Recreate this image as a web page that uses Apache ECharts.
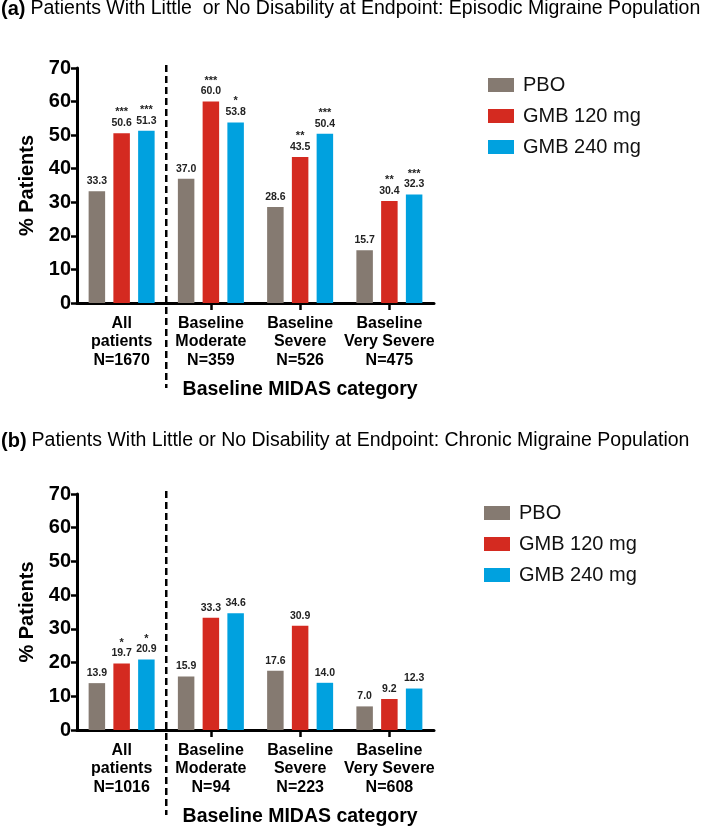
<!DOCTYPE html>
<html>
<head>
<meta charset="utf-8">
<script src="https://cdn.jsdelivr.net/npm/echarts@6/dist/echarts.min.js"></script>
<style>html,body{margin:0;padding:0;background:#fff}#c{width:709px;height:830px}</style>
</head>
<body>
<div id="c"></div>
<script>
const categoriesA = ['All\npatients\nN=1670', 'Baseline\nModerate\nN=359', 'Baseline\nSevere\nN=526', 'Baseline\nVery Severe\nN=475'];
const pboA = [33.3, 37.0, 28.6, 15.7];
const gmb120A = [50.6, 60.0, 43.5, 30.4];
const gmb240A = [51.3, 53.8, 50.4, 32.3];
const sig120A = ['***', '***', '**', '**'];
const sig240A = ['***', '*', '***', '***'];

const categoriesB = ['All\npatients\nN=1016', 'Baseline\nModerate\nN=94', 'Baseline\nSevere\nN=223', 'Baseline\nVery Severe\nN=608'];
const pboB = [13.9, 15.9, 17.6, 7.0];
const gmb120B = [19.7, 33.3, 30.9, 9.2];
const gmb240B = [20.9, 34.6, 14.0, 12.3];
const sig120B = ['*', '', '', ''];
const sig240B = ['*', '', '', ''];

const seriesNames = ['PBO', 'GMB 120 mg', 'GMB 240 mg'];
const yMin = 0, yMax = 70, yStep = 10;
const titleA = 'Patients With Little  or No Disability at Endpoint: Episodic Migraine Population';
const titleB = 'Patients With Little or No Disability at Endpoint: Chronic Migraine Population';
const xAxisTitle = 'Baseline MIDAS category';
const yAxisTitle = '% Patients';

const colors = ['#857a71', '#d42a20', '#00a1df'];
const FONT = 'Liberation Sans, Arial, sans-serif';

function labelFor(sig) {
  return {
    show: true,
    position: 'top',
    distance: 4,
    formatter: p => {
      const s = sig ? sig[p.dataIndex] : '';
      const v = '{v|' + Number(p.value).toFixed(1) + '}';
      return s ? '{s|' + s + '}\n' + v : v;
    },
    rich: {
      v: { fontFamily: FONT, fontSize: 10.5, fontWeight: 'bold', color: '#222', lineHeight: 12 },
      s: { fontFamily: FONT, fontSize: 11, fontWeight: 'bold', color: '#222', lineHeight: 10 }
    }
  };
}

function makeSeries(idx, data, color, sig, name) {
  return {
    type: 'bar', name: name, xAxisIndex: idx, yAxisIndex: idx,
    data: data, barWidth: 16.5, barGap: '50%',
    itemStyle: { color: color },
    label: labelFor(sig),
    emphasis: { disabled: true }
  };
}

function xAxisFor(idx, cats) {
  return {
    type: 'category', gridIndex: idx, data: cats,
    axisLine: { lineStyle: { color: '#000', width: 3 } },
    axisTick: { show: true, alignWithLabel: true, interval: (i) => i > 0, length: 7, lineStyle: { color: '#000', width: 2.5 } },
    axisLabel: { interval: 0, color: '#000', fontFamily: FONT, fontWeight: 'bold', fontSize: 16, lineHeight: 18.5, margin: 11 }
  };
}
function yAxisFor(idx) {
  return {
    type: 'value', gridIndex: idx, min: yMin, max: yMax, interval: yStep,
    name: yAxisTitle, nameLocation: 'middle', nameGap: 33,
    nameTextStyle: { color: '#000', fontFamily: FONT, fontWeight: 'bold', fontSize: 20 },
    axisLine: { show: true, lineStyle: { color: '#000', width: 3 } },
    axisTick: { show: true, length: 6, lineStyle: { color: '#000', width: 2.5 } },
    axisLabel: { color: '#000', fontFamily: FONT, fontWeight: 'bold', fontSize: 20, margin: 6 },
    splitLine: { show: false }
  };
}
function legendFor(left, top) {
  return {
    orient: 'vertical', left: left, top: top, data: seriesNames,
    itemWidth: 26, itemHeight: 14, itemGap: 11, icon: 'rect',
    selectedMode: false,
    textStyle: { fontFamily: FONT, fontSize: 20, color: '#111', padding: [0, 0, 0, 4] }
  };
}
function titleFor(letter, text, top) {
  return {
    text: '{b|(' + letter + ')} {n|' + text + '}',
    left: 1, top: top, padding: 0,
    textStyle: {
      rich: {
        b: { fontFamily: FONT, fontWeight: 'bold', fontSize: 20, color: '#000' },
        n: { fontFamily: FONT, fontWeight: 'normal', fontSize: 19.5, color: '#000' }
      }
    }
  };
}

const chart = echarts.init(document.getElementById('c'), null, { renderer: 'canvas' });
const option = {
  animation: false,
  title: [titleFor('a', titleA, -1), titleFor('b', titleB, 431)],
  legend: [legendFor(483, 70), legendFor(479, 498)],
  grid: [
    { left: 77, top: 68, width: 357, height: 235 },
    { left: 77, top: 494, width: 357, height: 236 }
  ],
  xAxis: [xAxisFor(0, categoriesA), xAxisFor(1, categoriesB)],
  yAxis: [yAxisFor(0), yAxisFor(1)],
  series: [
    makeSeries(0, pboA, colors[0], null, seriesNames[0]),
    makeSeries(0, gmb120A, colors[1], sig120A, seriesNames[1]),
    makeSeries(0, gmb240A, colors[2], sig240A, seriesNames[2]),
    makeSeries(1, pboB, colors[0], null, seriesNames[0]),
    makeSeries(1, gmb120B, colors[1], sig120B, seriesNames[1]),
    makeSeries(1, gmb240B, colors[2], sig240B, seriesNames[2])
  ]
};
chart.setOption(option);

function decorations(idx) {
  const x0 = chart.convertToPixel({ xAxisIndex: idx }, 0);
  const x1 = chart.convertToPixel({ xAxisIndex: idx }, 1);
  const x2 = chart.convertToPixel({ xAxisIndex: idx }, 2);
  const yTop = chart.convertToPixel({ yAxisIndex: idx }, yMax);
  const yZero = chart.convertToPixel({ yAxisIndex: idx }, yMin);
  const xm = (x0 + x1) / 2;
  return [
    {
      type: 'line', silent: true,
      shape: { x1: xm, y1: yTop - 3, x2: xm, y2: yZero + 85 },
      style: { stroke: '#000', lineWidth: 2.5, lineDash: [7, 4] }
    },
    {
      type: 'text', silent: true,
      x: x2, y: yZero + 87,
      style: {
        text: xAxisTitle, fill: '#000',
        font: 'bold 19.5px ' + FONT,
        textAlign: 'center', textVerticalAlign: 'middle',
        align: 'center', verticalAlign: 'middle'
      }
    }
  ];
}
chart.setOption({ graphic: { elements: decorations(0).concat(decorations(1)) } });
</script>
</body>
</html>
